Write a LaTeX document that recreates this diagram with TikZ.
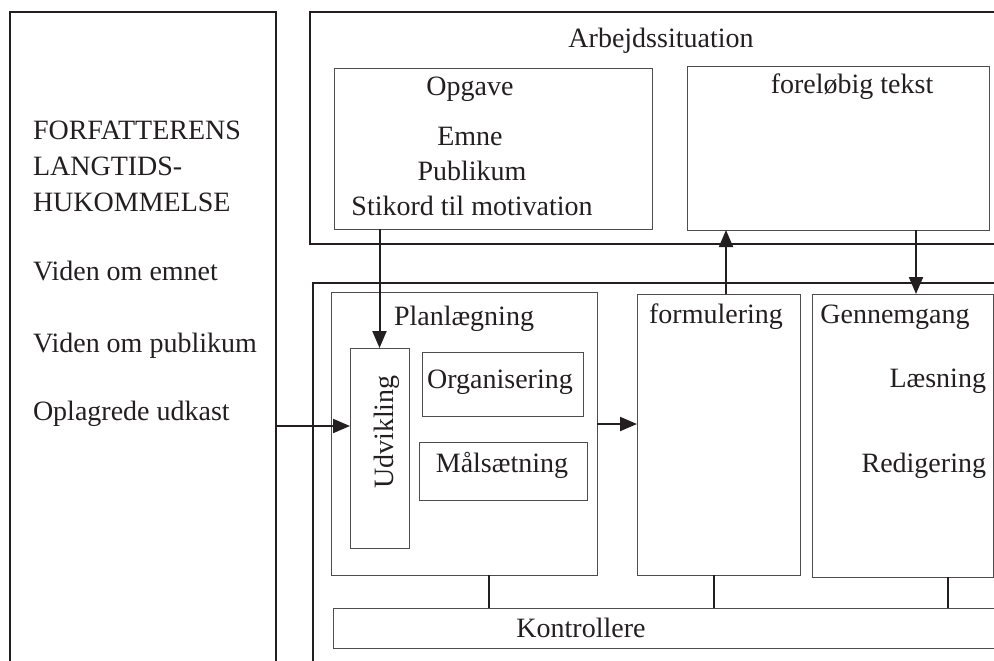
\documentclass[tikz,border=0pt]{standalone}
\usepackage{fontspec}
\setmainfont{Liberation Serif}
\usetikzlibrary{arrows.meta}
\definecolor{ink}{HTML}{231F20}

\begin{document}
\begin{tikzpicture}[
    x=0.5pt, y=-0.5pt,
    every node/.style={inner sep=0pt, outer sep=0pt, font=\fontsize{14}{17}\selectfont, text=ink},
    outerbox/.style={draw=ink, line width=1pt},
    innerbox/.style={draw=ink!80, line width=0.5pt},
    link/.style={draw=ink, line width=1pt},
    arr/.style={link, -{Triangle[length=8.5pt, width=7pt]}},
    txt/.style={anchor=base},
    txtl/.style={anchor=base west},
    txtr/.style={anchor=base east}
]
\useasboundingbox (0,0) rectangle (994,660);
\clip (0,0) rectangle (994,660);

\node[outerbox, minimum width=133pt, minimum height=344pt] (mem) at (143,356) {};
\node[outerbox, minimum width=370pt, minimum height=116pt] (arb) at (680,128) {};
\node[innerbox, minimum width=159pt, minimum height=80.5pt] (opg) at (493,148.5) {};
\node[innerbox, minimum width=151pt, minimum height=82pt] (fore) at (838,148) {};
\node[outerbox, minimum width=368.5pt, minimum height=208.5pt] (proc) at (681.5,491.5) {};
\node[innerbox, minimum width=133pt, minimum height=141.5pt] (plan) at (464,433.5) {};
\node[innerbox, minimum width=29.5pt, minimum height=100pt] (udv) at (379.5,448) {};
\node[innerbox, minimum width=80.5pt, minimum height=32pt] (org) at (502.5,384) {};
\node[innerbox, minimum width=84pt, minimum height=29pt] (mal) at (503,471) {};
\node[innerbox, minimum width=81.5pt, minimum height=140.5pt] (form) at (718.5,434.5) {};
\node[innerbox, minimum width=90.5pt, minimum height=141.5pt] (gen) at (902.5,435.5) {};
\node[innerbox, minimum width=358.5pt, minimum height=20pt] (kon) at (691.5,628) {};

\node[txtl] (memA) at (33,139) {FORFATTERENS};
\node[txtl] (memB) at (33,175) {LANGTIDS-};
\node[txtl] (memC) at (33,211) {HUKOMMELSE};
\node[txtl] (memD) at (33,280) {Viden om emnet};
\node[txtl] (memE) at (33,352) {Viden om publikum};
\node[txtl] (memF) at (33,420) {Oplagrede udkast};

\node[txt] (arbT) at (661,47) {Arbejdssituation};
\node[txt] (opgT) at (470,95) {Opgave};
\node[txt] (opgA) at (470,145) {Emne};
\node[txt] (opgB) at (472,180) {Publikum};
\node[txt] (opgC) at (472,215) {Stikord til motivation};
\node[txt] (foreT) at (852,93) {forel\o big tekst};

\node[txt] (planT) at (464,325) {Planlægning};
\node[txt, rotate=90] (udvT) at (393,432) {Udvikling};
\node[txt] (orgT) at (500,388) {Organisering};
\node[txt] (malT) at (502,472) {Målsætning};
\node[txt] (formT) at (716,323) {formulering};
\node[txt] (genT) at (895,323) {Gennemgang};
\node[txtr] (genA) at (986,387) {Læsning};
\node[txtr] (genB) at (986,472) {Redigering};
\node[txt] (konT) at (581,637) {Kontrollere};

\coordinate (inU) at ([yshift=11pt]udv.west);
\coordinate (inF) at ([yshift=5.25pt]form.west);
\coordinate (upF) at ([xshift=3.75pt]form.north);
\coordinate (dnG) at ([xshift=6.75pt]gen.north);
\coordinate (kP) at ([xshift=12.5pt]plan.south);
\coordinate (kF) at ([xshift=-2.25pt]form.south);
\coordinate (kG) at ([xshift=22.75pt]gen.south);

\draw[arr] (inU -| mem.east) -- (inU);
\draw[arr] (udv.north |- opg.south) -- (udv.north);
\draw[arr] (inF -| plan.east) -- (inF);
\draw[arr] (upF) -- (upF |- fore.south);
\draw[arr] (dnG |- fore.south) -- (dnG);
\draw[link] (kP) -- (kP |- kon.north);
\draw[link] (kF) -- (kF |- kon.north);
\draw[link] (kG) -- (kG |- kon.north);
\end{tikzpicture}
\end{document}
